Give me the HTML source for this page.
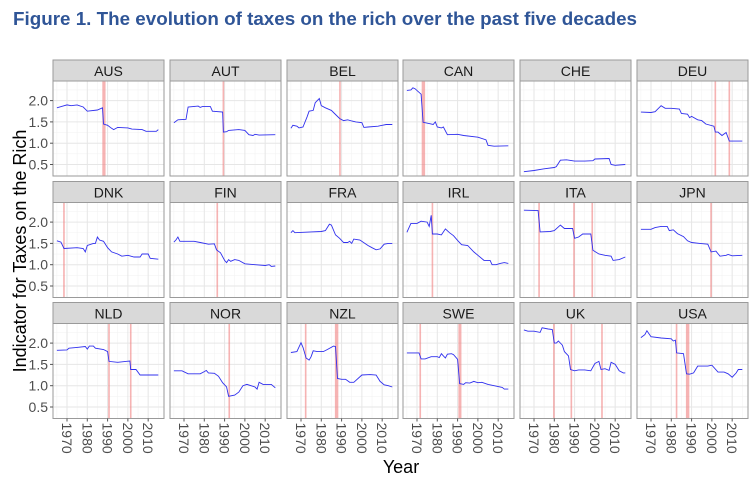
<!DOCTYPE html>
<html><head><meta charset="utf-8"><style>
html,body{margin:0;padding:0;background:#fff;}
svg{display:block;font-family:"Liberation Sans",sans-serif;}
</style></head><body>
<svg id="chart" width="754" height="479" viewBox="0 0 754 479" xmlns="http://www.w3.org/2000/svg">
<text x="13" y="25" font-size="18" font-weight="bold" fill="#2f5597" textLength="624" lengthAdjust="spacingAndGlyphs">Figure 1. The evolution of taxes on the rich over the past five decades</text>
<text transform="translate(26,251) rotate(-90)" text-anchor="middle" font-size="18" fill="#000">Indicator for Taxes on the Rich</text>
<text x="401" y="473" text-anchor="middle" font-size="18" fill="#000">Year</text>
<g id="panels"></g>
</svg>
<script>
const countries = ["AUS","AUT","BEL","CAN","CHE","DEU","DNK","FIN","FRA","IRL","ITA","JPN","NLD","NOR","NZL","SWE","UK","USA"];
const xTicks = [1970,1980,1990,2000,2010];
const xMinor = [1965,1975,1985,1995,2005,2015];
const yTicks = [0.5,1.0,1.5,2.0];
const yTickLabels = ["0.5","1.0","1.5","2.0"];
const yMinor = [0.75,1.25,1.75,2.25];
const reformBands = {
AUS:[[1987.4,1989.0]], AUT:[[1989.0,1989.8]], BEL:[[1988.8,1989.6]], CAN:[[1972.3,1974.0]], CHE:[], DEU:[[2001.3,2002.1],[2008.2,2009.0]],
DNK:[[1968.1,1968.9]], FIN:[[1986.0,1986.8]], FRA:[], IRL:[[1977.2,1978.0]], ITA:[[1972.1,1972.9],[1989.3,1990.1],[1998.3,1999.1]], JPN:[[1999.2,2000.0]],
NLD:[[1990.3,1991.1],[2001.0,2001.8]], NOR:[[1991.9,1992.7]], NZL:[[1971.9,1972.7],[1986.7,1988.4]], SWE:[[1971.2,1972.0],[1990.4,1991.9]], UK:[[1979.4,1980.2],[1988.0,1988.8],[2003.1,2003.9]], USA:[[1982.2,1983.0],[1987.2,1988.9]]
};
const seriesYears = {
AUS:[1965,1968,1970,1972,1975,1978,1980,1985,1987.5,1988,1990,1992,1993,1995,2000,2002,2007,2009,2014,2015],
AUT:[1965,1967,1971,1972,1977,1978,1979,1983,1984,1989,1989.4,1991,1992,1997,2000,2002,2004,2005,2007,2015],
BEL:[1965,1966,1968,1969,1971,1973,1974,1976,1977,1979,1980,1982,1985,1986,1989,1991,1993,1995,1997,2000,2001,2003,2008,2010,2012,2015],
CAN:[1965,1967,1968,1969,1972,1973,1976,1978,1979,1980,1982,1983,1985,1990,1993,2000,2004,2005,2008,2015],
CHE:[1965,1970,1975,1980,1981,1983,1986,1990,1995,1999,2000,2007,2008,2010,2015],
DEU:[1965,1970,1972,1975,1977,1980,1984,1985,1988,1989,1990,1993,1995,1997,2001,2001.7,2003,2005,2007,2008.6,2015],
DNK:[1965,1967,1968.5,1975,1978,1979,1980,1983,1984,1985,1986,1988,1990,1992,1995,1997,2000,2003,2006,2007,2010,2011,2015],
FIN:[1965,1966,1967,1968,1975,1978,1982,1985,1986,1988,1990,1991,1992,1993,1995,1997,2000,2005,2010,2012,2013,2015],
FRA:[1965,1966,1967,1975,1980,1982,1984,1985,1987,1989,1991,1993,1994,1995,1996,1999,2003,2005,2007,2009,2011,2013,2015],
IRL:[1965,1967,1970,1972,1975,1976,1977,1977.6,1980,1982,1984,1986,1988,1990,1992,1995,1998,2000,2003,2006,2007,2009,2011,2013,2015],
ITA:[1965,1972,1973,1978,1980,1983,1985,1989,1990,1992,1994,1998,1999,2002,2005,2008,2009,2012,2015],
JPN:[1965,1970,1972,1975,1978,1979,1981,1983,1986,1988,1990,1994,1998,1999.6,2002,2004,2007,2008,2010,2015],
NLD:[1965,1970,1971,1975,1979,1980,1981,1983,1984,1988,1990,1990.7,1995,2001,2001.4,2004,2006,2010,2015],
NOR:[1965,1969,1972,1978,1980,1981,1982,1985,1987,1989,1991,1992,1995,1997,1999,2001,2003,2005,2006,2007,2009,2013,2015],
NZL:[1965,1968,1970,1971,1972.5,1974,1975,1976,1978,1981,1983,1986,1987,1988,1990,1992,1994,1996,2000,2004,2007,2009,2011,2013,2015],
SWE:[1965,1971,1972,1974,1977,1980,1981,1982,1983,1984,1985,1987,1988,1990,1991,1993,1994,1996,1998,2000,2002,2005,2008,2012,2013,2015],
UK:[1965,1967,1970,1973,1974,1977,1979,1980,1981,1982,1984,1985,1987,1988,1990,1992,1995,1998,2000,2002,2003,2005,2007,2008,2010,2012,2014,2015],
USA:[1965,1967,1968,1970,1975,1980,1981,1982,1982.6,1986,1987.5,1989,1991,1993,1998,2000,2003,2006,2008,2010,2012,2013,2015]
};
const seriesValues = {
AUS:[1.83,1.87,1.90,1.88,1.90,1.85,1.75,1.78,1.83,1.45,1.42,1.35,1.32,1.37,1.36,1.33,1.32,1.28,1.28,1.32],
AUT:[1.48,1.55,1.56,1.85,1.87,1.84,1.86,1.86,1.75,1.73,1.26,1.27,1.30,1.32,1.30,1.20,1.18,1.21,1.19,1.20],
BEL:[1.35,1.42,1.40,1.36,1.38,1.62,1.75,1.77,1.95,2.05,1.88,1.83,1.77,1.72,1.58,1.53,1.55,1.52,1.50,1.48,1.37,1.38,1.40,1.42,1.44,1.44],
CAN:[2.24,2.25,2.30,2.28,2.15,1.49,1.46,1.44,1.50,1.38,1.36,1.38,1.20,1.21,1.18,1.14,1.08,0.95,0.93,0.94],
CHE:[0.33,0.36,0.40,0.43,0.45,0.60,0.61,0.58,0.58,0.59,0.63,0.64,0.50,0.48,0.50],
DEU:[1.73,1.72,1.74,1.88,1.82,1.82,1.80,1.70,1.68,1.60,1.63,1.55,1.53,1.45,1.40,1.26,1.26,1.18,1.25,1.05,1.05],
DNK:[1.56,1.53,1.38,1.40,1.38,1.30,1.45,1.50,1.50,1.65,1.58,1.55,1.40,1.30,1.25,1.20,1.22,1.18,1.18,1.25,1.25,1.15,1.13],
FIN:[1.53,1.58,1.65,1.55,1.55,1.52,1.48,1.49,1.35,1.28,1.10,1.05,1.12,1.08,1.12,1.10,1.02,1.00,0.98,1.00,0.96,0.97],
FRA:[1.75,1.80,1.75,1.77,1.78,1.80,1.95,1.93,1.70,1.62,1.52,1.52,1.55,1.50,1.60,1.58,1.45,1.40,1.35,1.37,1.48,1.50,1.50],
IRL:[1.76,1.97,1.97,2.02,2.00,1.90,2.16,1.72,1.72,1.70,1.84,1.75,1.68,1.57,1.47,1.45,1.30,1.22,1.10,1.10,1.00,1.00,1.03,1.05,1.03],
ITA:[2.28,2.27,1.77,1.78,1.80,1.93,1.85,1.85,1.62,1.65,1.72,1.72,1.34,1.25,1.22,1.20,1.10,1.12,1.18],
JPN:[1.83,1.83,1.87,1.90,1.90,1.80,1.82,1.73,1.66,1.56,1.52,1.50,1.48,1.30,1.32,1.20,1.22,1.24,1.21,1.22],
NLD:[1.83,1.84,1.88,1.90,1.92,1.86,1.93,1.93,1.88,1.85,1.80,1.57,1.55,1.58,1.38,1.38,1.25,1.25,1.25],
NOR:[1.35,1.35,1.28,1.28,1.33,1.36,1.30,1.29,1.22,1.07,0.97,0.75,0.78,0.85,1.00,1.03,1.00,0.97,0.92,1.08,1.03,1.03,0.95],
NZL:[1.78,1.80,2.01,1.90,1.65,1.60,1.68,1.82,1.80,1.80,1.85,1.93,1.92,1.17,1.15,1.15,1.08,1.08,1.25,1.26,1.25,1.10,1.02,1.00,0.97],
SWE:[1.77,1.77,1.63,1.63,1.68,1.68,1.66,1.75,1.70,1.65,1.74,1.75,1.73,1.62,1.05,1.03,1.07,1.06,1.10,1.07,1.08,1.03,1.00,0.96,0.92,0.92],
UK:[2.31,2.28,2.28,2.25,2.36,2.33,2.32,2.00,2.00,2.05,1.95,1.80,1.70,1.38,1.35,1.37,1.37,1.35,1.52,1.57,1.38,1.40,1.36,1.55,1.50,1.35,1.30,1.30],
USA:[2.13,2.20,2.29,2.15,2.12,2.10,2.05,2.07,1.77,1.75,1.28,1.27,1.30,1.46,1.46,1.48,1.32,1.32,1.28,1.20,1.30,1.38,1.38]
};

const NS="http://www.w3.org/2000/svg";
const colLeft=[53,170,287,403,520,637], panelW=111;
const rowStrip=[60,181.5,302.5], stripH=21, plotH=95;
const X0=1963.1, X1=2017.8, Y0=0.23, Y1=2.46;
function mk(tag,attrs,parent){const e=document.createElementNS(NS,tag);for(const k in attrs)e.setAttribute(k,attrs[k]);parent.appendChild(e);return e;}
const root=document.getElementById('panels');
countries.forEach((c,i)=>{
  const col=i%6,row=Math.floor(i/6);
  const L=colLeft[col], T=rowStrip[row]+stripH;
  const sx=v=>L+(v-X0)/(X1-X0)*panelW;
  const sy=v=>T+(Y1-v)/(Y1-Y0)*plotH;
  const g=mk('g',{},root);
  
  
  const strip=mk('rect',{x:L,y:rowStrip[row],width:panelW,height:stripH,fill:'#d9d9d9',stroke:'#9a9a9a','stroke-width':1},g);
  
  
  const st=mk('text',{x:L+panelW/2,y:rowStrip[row]+16,'text-anchor':'middle','font-size':14,fill:'#1a1a1a'},g);
  st.textContent=c;
  
  
  mk('rect',{x:L,y:T,width:panelW,height:plotH,fill:'#fff'},g);
  xMinor.forEach(v=>mk('line',{x1:sx(v),x2:sx(v),y1:T,y2:T+plotH,stroke:'#f3f3f3','stroke-width':0.6},g));
  yMinor.forEach(v=>mk('line',{x1:L,x2:L+panelW,y1:sy(v),y2:sy(v),stroke:'#f3f3f3','stroke-width':0.6},g));
  xTicks.forEach(v=>mk('line',{x1:sx(v),x2:sx(v),y1:T,y2:T+plotH,stroke:'#e6e6e6','stroke-width':1},g));
  yTicks.forEach(v=>mk('line',{x1:L,x2:L+panelW,y1:sy(v),y2:sy(v),stroke:'#e6e6e6','stroke-width':1},g));
  reformBands[c].forEach(b=>{
    const r=mk('rect',{x:sx(b[0]),y:T,width:Math.max(1.5,sx(b[1])-sx(b[0])),height:plotH,fill:'#f08080','fill-opacity':0.6},g);
    
    
  });
  const yrs=seriesYears[c], vals=seriesValues[c];
  const pts=yrs.map((y,k)=>sx(y).toFixed(1)+','+sy(vals[k]).toFixed(1)).join(' ');
  const pl=mk('polyline',{points:pts,fill:'none',stroke:'#3030ee','stroke-width':0.9},g);
  
  
  mk('rect',{x:L,y:T,width:panelW,height:plotH,fill:'none',stroke:'#9a9a9a','stroke-width':1},g);
  if(col===0){
    yTicks.forEach((v,k)=>{
      mk('line',{x1:L-3,x2:L,y1:sy(v),y2:sy(v),stroke:'#555'},g);
      const t=mk('text',{x:L-5,y:sy(v)+5,'text-anchor':'end','font-size':14,fill:'#4d4d4d'},g);
      t.textContent=yTickLabels[k];
      
      
    });
  }
  if(row===2){
    xTicks.forEach(v=>{
      mk('line',{x1:sx(v),x2:sx(v),y1:T+plotH,y2:T+plotH+3,stroke:'#555'},g);
      const t=mk('text',{transform:'translate('+(sx(v)-5)+','+(T+plotH+4)+') rotate(90)','font-size':14,fill:'#4d4d4d'},g);
      t.textContent=String(v);
      
      
    });
  }
});
</script>
</body></html>
